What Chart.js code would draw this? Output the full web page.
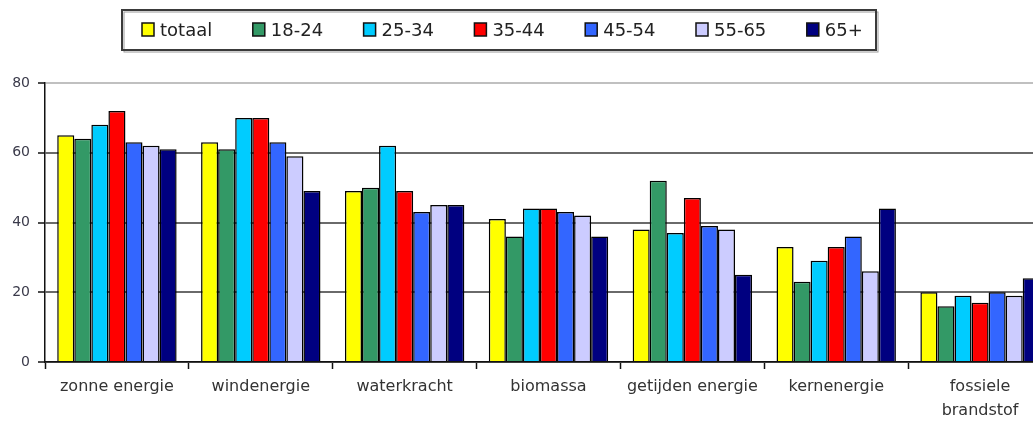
<!DOCTYPE html>
<html>
<head>
<meta charset="utf-8">
<script src="https://cdn.jsdelivr.net/npm/chart.js@4.4.1/dist/chart.umd.min.js"></script>
<style>
  html, body { margin: 0; padding: 0; background: #fff; overflow: hidden; }
  #wrap { position: relative; width: 1060px; height: 421px; }
</style>
</head>
<body>
<div id="wrap"><canvas id="grafiek"></canvas></div>
<script>
const categorieen = ['zonne energie', 'windenergie', 'waterkracht', 'biomassa', 'getijden energie', 'kernenergie', ['fossiele', 'brandstof']];
const reeksen = ['totaal', '18-24', '25-34', '35-44', '45-54', '55-65', '65+'];
const kleuren = ['#FFFF00', '#339966', '#00CCFF', '#FF0000', '#3366FF', '#CCCCFF', '#000080'];

const totaal = [65, 63, 49, 41, 38, 33, 20];
const leeftijd1824 = [64, 61, 50, 36, 52, 23, 16];
const leeftijd2534 = [68, 70, 62, 44, 37, 29, 19];
const leeftijd3544 = [72, 70, 49, 44, 47, 33, 17];
const leeftijd4554 = [63, 63, 43, 43, 39, 36, 20];
const leeftijd5565 = [62, 59, 45, 42, 38, 26, 19];
const leeftijd65plus = [61, 49, 45, 36, 25, 44, 24];

const yTicks = [0, 20, 40, 60, 80];

const waarden = [totaal, leeftijd1824, leeftijd2534, leeftijd3544, leeftijd4554, leeftijd5565, leeftijd65plus];

// legenda met kader, zoals in het origineel
const legendaKader = {
  id: 'legendaKader',
  afterDraw(chart) {
    const ctx = chart.ctx;
    ctx.save();
    ctx.strokeStyle = '#9a9a9a';
    ctx.lineWidth = 1;
    ctx.strokeRect(124, 12, 754, 40);
    ctx.strokeStyle = '#3a3a3a';
    ctx.lineWidth = 2;
    ctx.strokeRect(122, 10, 754, 40);
    ctx.font = '18px "DejaVu Sans"';
    ctx.textBaseline = 'middle';
    chart.data.datasets.forEach((ds, i) => {
      const x = 142 + i * 110.8;
      ctx.fillStyle = ds.backgroundColor;
      ctx.fillRect(x, 23, 12, 13);
      ctx.strokeStyle = '#111';
      ctx.lineWidth = 1.5;
      ctx.strokeRect(x, 23, 12, 13);
      ctx.fillStyle = '#222';
      ctx.fillText(ds.label, x + 18, 31);
    });
    ctx.restore();
  }
};

const ctx = document.getElementById('grafiek').getContext('2d');
new Chart(ctx, {
  type: 'bar',
  data: {
    labels: categorieen,
    datasets: reeksen.map((naam, i) => ({
      label: naam,
      data: waarden[i],
      backgroundColor: kleuren[i],
      borderColor: '#000',
      borderWidth: 1.5,
      borderSkipped: 'start',
      categoryPercentage: 0.83,
      barPercentage: 1
    }))
  },
  options: {
    responsive: true,
    maintainAspectRatio: false,
    animation: false,
    layout: { padding: { top: 83, right: 8, left: 0, bottom: 0 } },
    plugins: {
      legend: { display: false },
      tooltip: { enabled: false }
    },
    scales: {
      x: {
        afterFit: scale => { scale.height = 59; },
        border: { color: '#111', width: 1.5 },
        grid: {
          drawOnChartArea: false,
          drawTicks: true,
          tickLength: 7,
          tickColor: '#111',
          tickWidth: 1.5
        },
        ticks: {
          color: '#333',
          padding: 6,
          maxRotation: 0,
          autoSkip: false,
          font: { family: 'DejaVu Sans', size: 16, lineHeight: 1.5 }
        }
      },
      y: {
        min: 0,
        max: 80,
        afterFit: scale => { scale.width = 45; },
        afterBuildTicks: scale => { scale.ticks = yTicks.map(v => ({ value: v })); },
        border: { color: '#111', width: 1.5 },
        grid: {
          color: c => (c.tick && c.tick.value === 80 ? '#c0c0c0' : '#6a6a6a'),
          lineWidth: 2,
          tickLength: 7,
          tickColor: '#111',
          tickWidth: 1.5
        },
        ticks: {
          color: '#3a3a4a',
          padding: 8,
          font: { family: 'DejaVu Sans', size: 14 }
        }
      }
    }
  },
  plugins: [legendaKader]
});
</script>
</body>
</html>
